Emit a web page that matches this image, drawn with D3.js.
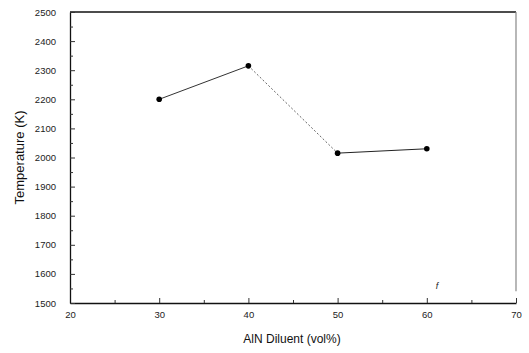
<!DOCTYPE html>
<html>
<head>
<meta charset="utf-8">
<script src="https://cdn.jsdelivr.net/npm/d3@7"></script>
<style>
  body { margin: 0; background: #fff; }
  svg { display: block; font-family: "Liberation Sans", Arial, sans-serif; }
</style>
</head>
<body>
<svg id="chart" width="529" height="353"></svg>
<script>
// data
const diluent = [30, 40, 50, 60];
const temperature = [2200, 2315, 2015, 2030];
const x_ticks = [20, 30, 40, 50, 60, 70];
const y_ticks = [1500, 1600, 1700, 1800, 1900, 2000, 2100, 2200, 2300, 2400, 2500];

const svg = d3.select("#chart");
const width = 529;
const height = 353;
const margins = { top: 12, right: 13, bottom: 50, left: 70 };

var x_scale = d3.scaleLinear()
    .domain([20, 70])
    .range([margins.left, width - margins.right]);

var y_scale = d3.scaleLinear()
    .domain([1500, 2500])
    .range([height - margins.bottom, margins.top]);

// frame: top black, right lighter grey like the scan
svg.append("line")
    .attr("x1", x_scale(20)).attr("x2", x_scale(70))
    .attr("y1", y_scale(2500)).attr("y2", y_scale(2500))
    .attr("stroke", "#111").attr("stroke-width", 1.3);
svg.append("line")
    .attr("x1", x_scale(70)).attr("x2", x_scale(70))
    .attr("y1", y_scale(2500)).attr("y2", y_scale(1540))
    .attr("stroke", "#888").attr("stroke-width", 1.2);

// x axis, ticks pointing inward
const x_axis = svg.append("g")
    .attr("transform", `translate(0,${y_scale(1500)})`)
    .call(d3.axisBottom(x_scale).tickValues(x_ticks).tickFormat(d3.format("d"))
        .tickSizeInner(-5).tickSizeOuter(0).tickPadding(8));
x_axis.select(".domain").attr("stroke", "#111").attr("stroke-width", 1.5);
x_axis.selectAll("text").attr("font-size", 9.5).attr("fill", "#222");
x_axis.selectAll(".tick line").attr("stroke", "#333");

svg.append("g")
    .attr("transform", `translate(0,${y_scale(1500)})`)
    .call(d3.axisBottom(x_scale).tickValues([25, 35, 45, 55, 65]).tickSize(-3).tickFormat(""))
    .call(g => g.select(".domain").remove())
    .selectAll("line").attr("stroke", "#333");

// y axis, ticks pointing inward
const y_axis = svg.append("g")
    .attr("transform", `translate(${x_scale(20)},0)`)
    .call(d3.axisLeft(y_scale).tickValues(y_ticks).tickFormat(d3.format("d"))
        .tickSizeInner(-5).tickSizeOuter(0).tickPadding(14));
y_axis.select(".domain").attr("stroke", "#111").attr("stroke-width", 1.3);
y_axis.selectAll("text").attr("font-size", 9.5).attr("fill", "#222");
y_axis.selectAll(".tick line").attr("stroke", "#333");

svg.append("g")
    .attr("transform", `translate(${x_scale(20)},0)`)
    .call(d3.axisLeft(y_scale).tickValues(d3.range(1550, 2500, 100)).tickSize(-3).tickFormat(""))
    .call(g => g.select(".domain").remove())
    .selectAll("line").attr("stroke", "#333");

// data line: segments drawn separately, middle one faint and broken
const points = diluent.map((d, i) => [x_scale(d), y_scale(temperature[i])]);
const seg_styles = [
    { stroke: "#333", dash: null, width: 1 },
    { stroke: "#666", dash: "2,2", width: 1 },
    { stroke: "#222", dash: null, width: 1 }
];
for (let i = 0; i < points.length - 1; i++) {
    svg.append("line")
        .attr("x1", points[i][0]).attr("y1", points[i][1])
        .attr("x2", points[i + 1][0]).attr("y2", points[i + 1][1])
        .attr("stroke", seg_styles[i].stroke)
        .attr("stroke-width", seg_styles[i].width)
        .attr("stroke-dasharray", seg_styles[i].dash);
}

svg.append("g")
    .selectAll("circle")
    .data(diluent)
    .join("circle")
    .attr("cx", (d) => x_scale(d))
    .attr("cy", (d, i) => y_scale(temperature[i]))
    .attr("r", 2.8)
    .attr("fill", "#000");

// axis titles
svg.append("text")
    .attr("transform", `translate(24,${(y_scale(1500) + y_scale(2500)) / 2}) rotate(-90)`)
    .attr("text-anchor", "middle")
    .attr("font-size", 13)
    .attr("fill", "#111")
    .text("Temperature (K)");

svg.append("text")
    .attr("x", 292)
    .attr("y", 343)
    .attr("text-anchor", "middle")
    .attr("font-size", 12)
    .attr("fill", "#111")
    .text("AlN Diluent (vol%)");

// stray scan mark near x=60
svg.append("text")
    .attr("x", x_scale(61))
    .attr("y", 289)
    .attr("font-size", 9)
    .attr("font-style", "italic")
    .attr("fill", "#222")
    .text("f");
</script>
</body>
</html>
